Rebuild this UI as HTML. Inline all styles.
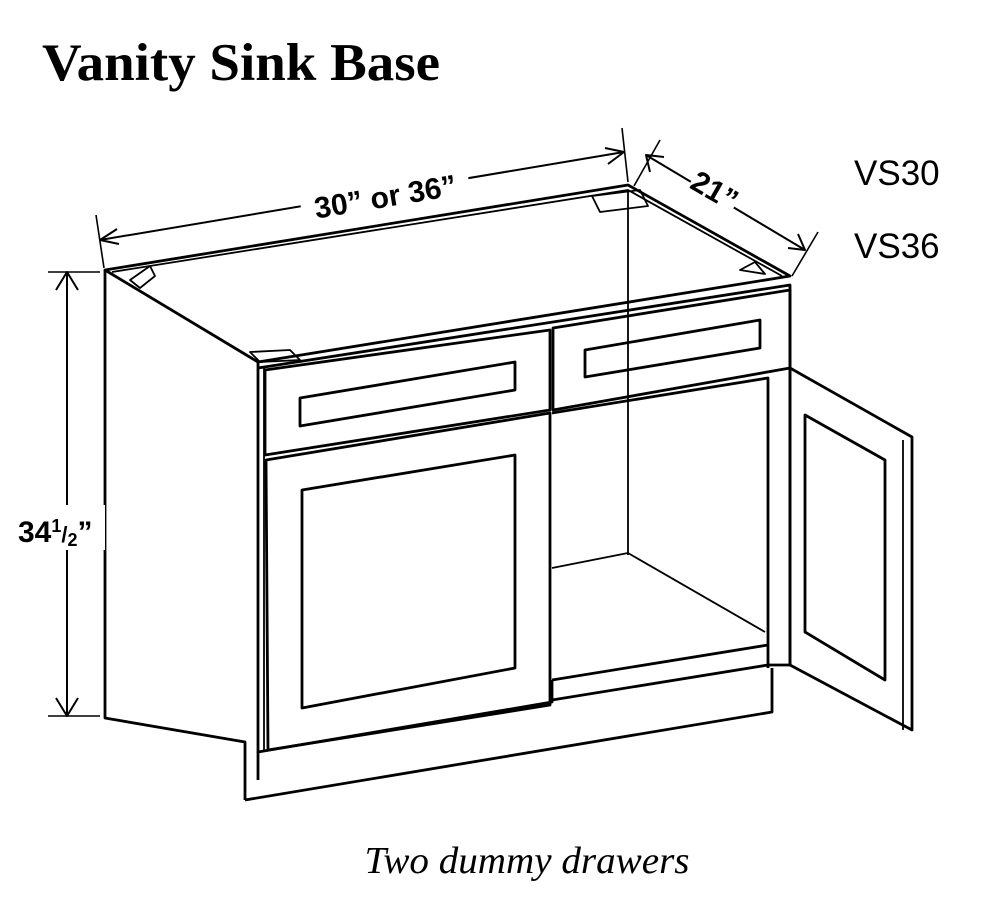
<!DOCTYPE html>
<html><head><meta charset="utf-8"><style>
html,body{margin:0;padding:0;background:#fff;}
svg{display:block}
</style></head><body>
<svg width="1008" height="916" viewBox="0 0 1008 916" xmlns="http://www.w3.org/2000/svg">
<g fill="none" stroke="#000" stroke-width="2.8" stroke-linejoin="round">
<!-- top -->
<polygon points="105,270 628,185 790,276 258,362"/>
<polyline points="112,272 628,190 782,276" stroke-width="1.8"/>
<line x1="628" y1="190" x2="628" y2="555" stroke-width="1.8"/>
<polygon points="592,196 640,190 648,206 600,212" stroke-width="1.8"/>
<polygon points="130,280 150,266 155,276 140,288" stroke-width="1.8"/>
<polygon points="740,270 755,262 765,274" stroke-width="1.8"/>
<polygon points="250,352 290,350 300,360 260,362" stroke-width="1.8"/>
<!-- left side -->
<polyline points="105,270 105,718 245,742 245,800"/>
<!-- base -->
<polyline points="245,800 772,712 772,668"/>
<line x1="258" y1="752" x2="258" y2="780"/>
<!-- front frame -->
<polyline points="258,362 258,752 552,702 552,680"/>
<polyline points="258,368 790,285 790,368"/>
<line x1="264" y1="368" x2="264" y2="752" stroke-width="1.8"/>
<!-- left drawer -->
<polygon points="265,370 550,330 550,410 265,455"/>
<polygon points="300,398 515,362 515,390 300,426"/>
<!-- right drawer -->
<polygon points="553,328 790,290 790,368 553,410"/>
<polygon points="585,350 760,320 760,348 585,377"/>
<!-- left door -->
<polygon points="266,460 550,413 550,705 268,750"/>
<polygon points="302,490 515,455 515,668 302,708"/>
<!-- opening -->
<polyline points="552,413 768,378 768,668"/>
<line x1="552" y1="680" x2="768" y2="645"/>
<line x1="552" y1="568" x2="628" y2="553" stroke-width="1.8"/>
<line x1="628" y1="553" x2="765" y2="632" stroke-width="1.8"/>
<polyline points="552,700 768,665 790,665" />
<line x1="790" y1="368" x2="790" y2="665"/>
<!-- open door -->
<polygon points="790,368 912,437 912,730 790,665"/>
<line x1="903" y1="440" x2="903" y2="730" stroke-width="1.8"/>
<polygon points="805,415 885,460 885,680 805,632"/>
<!-- dimension lines -->
<line x1="100" y1="240" x2="624" y2="152" stroke-width="2"/>
<polyline points="117,229 100,240 119,244" stroke-width="2"/>
<polyline points="605,148 624,152 608,164" stroke-width="2"/>
<line x1="96" y1="215" x2="104" y2="268" stroke-width="1.6"/>
<line x1="622" y1="128" x2="628" y2="182" stroke-width="1.6"/>
<line x1="646" y1="155" x2="805" y2="250" stroke-width="2"/>
<polyline points="650,172 646,155 664,157" stroke-width="2"/>
<polyline points="788,248 805,250 798,234" stroke-width="2"/>
<line x1="660" y1="140" x2="634" y2="186" stroke-width="1.6"/>
<line x1="818" y1="232" x2="792" y2="276" stroke-width="1.6"/>
<line x1="67" y1="272" x2="67" y2="716" stroke-width="2"/>
<line x1="48" y1="272" x2="100" y2="272" stroke-width="1.6"/>
<line x1="48" y1="716" x2="100" y2="716" stroke-width="1.6"/>
<polyline points="56,290 67,272 78,290" stroke-width="2"/>
<polyline points="56,698 67,716 78,698" stroke-width="2"/>
</g>
<rect x="300" y="175" width="170" height="40" fill="#fff" transform="rotate(-9.5 385 195)"/>
<text x="385" y="207" font-family="Liberation Sans, sans-serif" font-weight="bold" font-size="30" text-anchor="middle" transform="rotate(-9.5 385 195)">30” or 36”</text>
<rect x="690" y="172" width="50" height="36" fill="#fff" transform="rotate(30 715 190)"/>
<text x="715" y="201" font-family="Liberation Sans, sans-serif" font-weight="bold" font-size="30" text-anchor="middle" transform="rotate(30 715 190)">21”</text>
<rect x="15" y="505" width="90" height="45" fill="#fff"/>
<text x="18" y="542" font-family="Liberation Sans, sans-serif" font-weight="bold" font-size="30">34<tspan font-size="18" dy="-10">1</tspan><tspan font-size="22" dy="10">/</tspan><tspan font-size="18" dy="4">2</tspan><tspan dy="-4">”</tspan></text>
<text x="42" y="80" font-family="Liberation Serif, serif" font-weight="bold" font-size="53" textLength="398" lengthAdjust="spacingAndGlyphs">Vanity Sink Base</text>
<text x="854" y="185" font-family="Liberation Sans, sans-serif" font-size="35">VS30</text>
<text x="854" y="258" font-family="Liberation Sans, sans-serif" font-size="35">VS36</text>
<text x="527" y="873" font-family="Liberation Serif, serif" font-style="italic" font-size="38" text-anchor="middle" textLength="325" lengthAdjust="spacingAndGlyphs">Two dummy drawers</text>
</svg>
</body></html>
